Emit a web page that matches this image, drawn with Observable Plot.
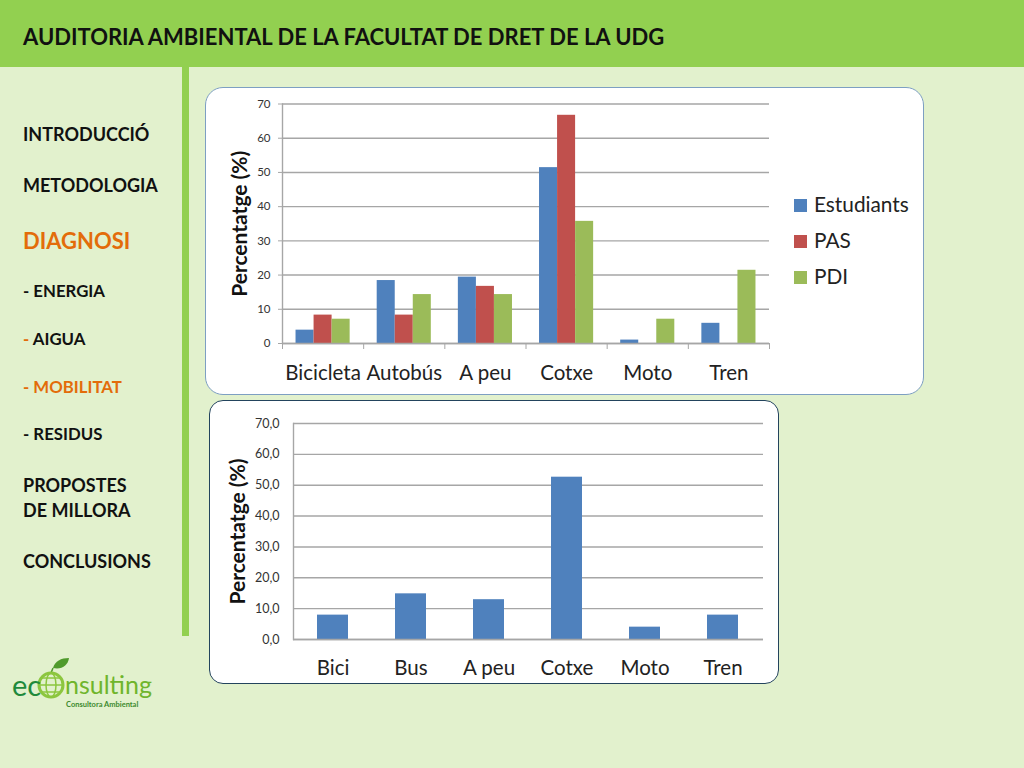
<!DOCTYPE html>
<html>
<head>
<meta charset="utf-8">
<script src="https://cdn.jsdelivr.net/npm/d3@7"></script>
<script src="https://cdn.jsdelivr.net/npm/@observablehq/plot@0.6"></script>
<style>
  html, body { margin: 0; padding: 0; }
  body { width: 1024px; height: 768px; overflow: hidden; position: relative; background: #e2f1cd; font-family: Lato, sans-serif; color: #111; }
  #header { position: absolute; left: 0; top: 0; width: 1024px; height: 67px; background: #92d050; }
  #title { position: absolute; left: 23px; top: 23px; font-size: 22px; font-weight: 700; line-height: 28px; white-space: nowrap; }
  #divider { position: absolute; left: 182px; top: 67px; width: 7px; height: 569px; background: #92d050; }
  .menu { position: absolute; left: 23px; font-weight: 700; white-space: nowrap; transform: translateY(-50%); }
  .box { position: absolute; background: #fff; box-sizing: border-box; }
  #box1 { left: 205px; top: 87px; width: 719px; height: 308px; border: 1px solid #7d9fc2; border-radius: 18px; }
  #box2 { left: 209px; top: 400px; width: 570px; height: 284px; border: 1.5px solid #23445d; border-radius: 14px; }
  .chart { position: absolute; }
  .chart svg { display: block; overflow: visible; }
  #chart1 { left: 206px; top: 88px; }
  #chart2 { left: 210px; top: 401px; }
  #legend { position: absolute; left: 794px; top: 186px; font-size: 20.8px; color: #222; }
  #legend div { height: 36px; line-height: 36px; white-space: nowrap; }
  #legend span { display: inline-block; width: 13px; height: 13px; margin-right: 7px; }
  #logo { position: absolute; left: 10px; top: 653px; }
</style>
</head>
<body>
<div id="header"></div>
<div id="title">AUDITORIA AMBIENTAL DE LA FACULTAT DE DRET DE LA UDG</div>
<div id="divider"></div>
<div id="menu"></div>
<div class="box" id="box1"></div>
<div class="box" id="box2"></div>
<div class="chart" id="chart1"></div>
<div class="chart" id="chart2"></div>
<div id="legend"></div>
<svg id="logo" width="175" height="62" viewBox="0 0 175 62">
  <path d="M43 15 C45 8 51 5 59 5 C58 12 52 17 43 15 Z" fill="#4f9a2c"/>
  <path d="M43 15 L41 20" stroke="#4f9a2c" stroke-width="1.5" fill="none"/>
  <circle cx="41" cy="32" r="12" fill="none" stroke="#8cc63f" stroke-width="3"/>
  <ellipse cx="41" cy="32" rx="5" ry="12" fill="none" stroke="#8cc63f" stroke-width="1.5"/>
  <path d="M29 32 H53 M31 25 H51 M31 39 H51" stroke="#8cc63f" stroke-width="1.5"/>
  <text x="2" y="43" font-family="Lato" font-size="29" fill="#1f8a3c">ec</text>
  <text x="55" y="41" font-family="Lato" font-size="25" fill="#6fb52c">nsulting</text>
  <text x="56" y="54" font-family="Lato" font-size="7.5" font-weight="700" fill="#3c8a2e">Consultora Ambiental</text>
</svg>
<script>
const menuLabels = ["INTRODUCCIÓ", "METODOLOGIA", "DIAGNOSI", "- ENERGIA", "- AIGUA", "- MOBILITAT", "- RESIDUS", "PROPOSTES", "DE MILLORA", "CONCLUSIONS"]
const menuY = [134, 185, 240, 290, 338, 386, 433, 485, 510, 561]
const menuSize = [18, 18, 22, 16.8, 16.8, 16.8, 16.8, 18, 18, 18]

const categories1 = ["Bicicleta", "Autobús", "A peu", "Cotxe", "Moto", "Tren"]
const series1 = ["Estudiants", "PAS", "PDI"]
const colors1 = ["#4f81bd", "#c0504d", "#9bbb59"]
const estudiants = [3.9, 18.4, 19.4, 51.4, 1, 5.9]
const pas = [8.3, 8.3, 16.7, 66.7, 0, 0]
const pdi = [7.1, 14.3, 14.3, 35.7, 7.1, 21.4]

const categories2 = ["Bici", "Bus", "A peu", "Cotxe", "Moto", "Tren"]
const values2 = [7.9, 14.8, 12.9, 52.6, 4, 7.9]

const yTicks = [0, 10, 20, 30, 40, 50, 60, 70]
const gray = "#a6a6a6"

// left menu
d3.select("#menu").selectAll("div").data(menuLabels).join("div")
  .attr("class", "menu")
  .style("top", (d, i) => menuY[i] + "px")
  .style("font-size", (d, i) => menuSize[i] + "px")
  .style("color", d => d == "DIAGNOSI" ? "#e36c0a" : "#111")
  .html(d => d == "- AIGUA" ? '<span style="color:#e36c0a">- </span>AIGUA'
    : d == "- MOBILITAT" ? '<span style="color:#e36c0a">- MOBILITAT</span>' : d)

// legend
d3.select("#legend").selectAll("div").data(series1).join("div")
  .html((d, i) => `<span style="background:${colors1[i]}"></span>${d}`)

// first chart: groups on a linear x so the ticks can sit between the categories
const rows1 = categories1.flatMap((c, i) => [estudiants, pas, pdi].map((vals, s) => ({
  categoria: c,
  serie: series1[s],
  x1: i + 1 / 6 + s * 2 / 9,
  x2: i + 1 / 6 + (s + 1) * 2 / 9,
  valor: vals[i]
})))

let chart1 = Plot.plot({
  width: 717,
  height: 306,
  marginLeft: 76,
  marginRight: 154,
  marginTop: 15.5,
  marginBottom: 51,
  style: { background: "transparent", fontFamily: "Lato, sans-serif" },
  x: { domain: [0, 6] },
  y: { domain: [0, 70] },
  color: { domain: series1, range: colors1 },
  marks: [
    Plot.gridY(yTicks, { stroke: gray, strokeOpacity: 1, strokeWidth: 1.4 }),
    Plot.frame({ anchor: "left", stroke: gray, strokeWidth: 1.4 }),
    Plot.rectY(rows1.filter(d => d.valor > 0), { x1: "x1", x2: "x2", y: "valor", fill: "serie" }),
    Plot.ruleY([0], { stroke: gray, strokeWidth: 1.4 }),
    Plot.axisY({
      ticks: yTicks, tickSize: 4, stroke: gray, fontSize: 11.5, color: "#333", tickPadding: 8,
      label: "Percentatge (%)", labelAnchor: "center", labelArrow: "none", labelOffset: 50
    }),
    Plot.axisX({ ticks: d3.range(7), tickSize: 6, stroke: gray, tickFormat: () => "" }),
    Plot.axisX({
      ticks: categories1.map((c, i) => i + 0.5), tickSize: 0, tickPadding: 22, fontSize: 20.5, color: "#222",
      tickFormat: d => categories1[Math.floor(d)], label: null
    })
  ]
})
d3.select("#chart1").append(() => chart1)

// second chart
const rows2 = categories2.map((c, i) => ({ categoria: c, valor: values2[i] }))

let chart2 = Plot.plot({
  width: 567,
  height: 281,
  marginLeft: 83,
  marginRight: 14,
  marginTop: 22,
  marginBottom: 43,
  style: { background: "transparent", fontFamily: "Lato, sans-serif" },
  x: { domain: categories2, paddingInner: 0.6, paddingOuter: 0.3 },
  y: { domain: [0, 70] },
  marks: [
    Plot.gridY(yTicks, { stroke: gray, strokeOpacity: 1, strokeWidth: 1.4 }),
    Plot.frame({ anchor: "left", stroke: gray, strokeWidth: 1.4 }),
    Plot.barY(rows2, { x: "categoria", y: "valor", fill: "#4f81bd" }),
    Plot.ruleY([0], { stroke: gray, strokeWidth: 1.4 }),
    Plot.axisY({
      ticks: yTicks, tickSize: 0, tickPadding: 14, fontSize: 12.5, color: "#333",
      tickFormat: d => d3.format(".1f")(d).replace(".", ","),
      label: "Percentatge (%)", labelAnchor: "center", labelArrow: "none", labelOffset: 63
    }),
    Plot.axisX({ tickSize: 0, tickPadding: 21, fontSize: 20.5, color: "#222", label: null })
  ]
})
d3.select("#chart2").append(() => chart2)

// axis titles are bigger than the tick labels
d3.selectAll('.chart g[aria-label="y-axis label"] text')
  .attr("font-size", 21)
  .attr("font-weight", 700)
  .attr("fill", "#111")
</script>
</body>
</html>
